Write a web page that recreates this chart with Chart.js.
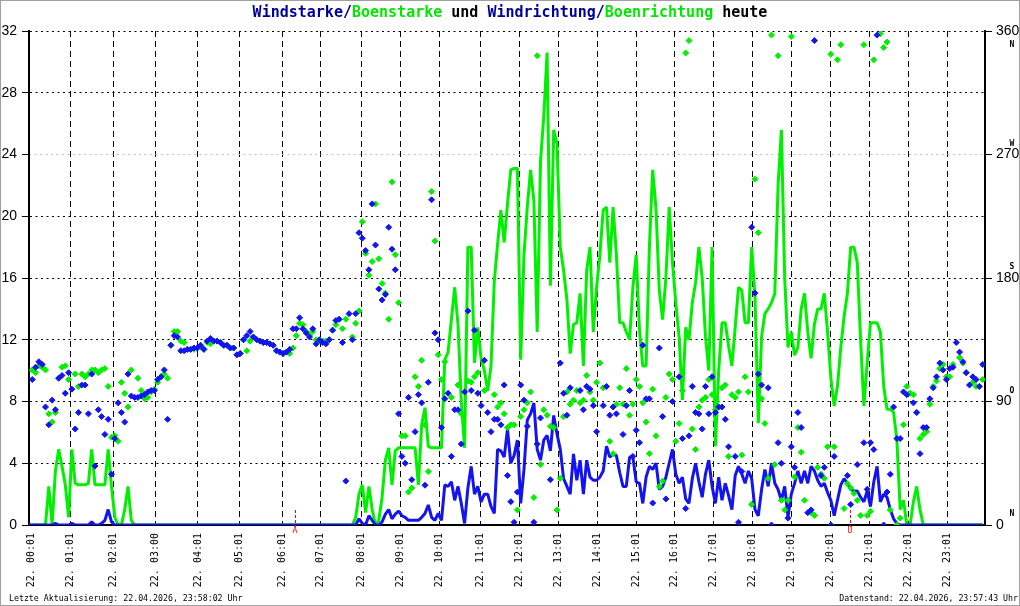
<!DOCTYPE html>
<html>
<head>
<meta charset="utf-8">
<script src="https://cdn.jsdelivr.net/npm/chart.js@4/dist/chart.umd.min.js"></script>
<style>
  html, body { margin: 0; padding: 0; background: #fff; }
  canvas { display: block; }
</style>
</head>
<body>
<canvas id="windChart" width="1020" height="606"></canvas>
<script>
// one sample every ~5 minutes, x axis = sample number
const hourLabels = ["22. 00:01", "22. 01:01", "22. 02:01", "22. 03:00", "22. 04:01", "22. 05:01",
  "22. 06:01", "22. 07:01", "22. 08:01", "22. 09:01", "22. 10:01", "22. 11:01", "22. 12:01",
  "22. 13:01", "22. 14:01", "22. 15:01", "22. 16:01", "22. 17:01", "22. 18:01", "22. 19:01",
  "22. 20:01", "22. 21:01", "22. 22:01", "22. 23:01"];
const hourTickIdx = [0.6, 12.6, 25.5, 38.2, 51.2, 63.9, 76.9, 88.2, 100.8, 112.6, 124.5, 136.8,
  148.5, 160.4, 172.2, 184.1, 195.5, 207.4, 219.3, 231.1, 243.0, 254.6, 266.5, 278.3];
const lastIdx = 289.7;

const dirTicks = [0, 90, 180, 270, 360];
const compass = ["N", "O", "S", "W", "N"];

const sunEventIdx = [80.6, 248.8];
const sunEventLabel = ["A", "U"];

// Boenstarke
const gust = [
  0, 0, 0, 0, 0, 0, 2.5, 0, 3.5, 4.9,
  3.8, 2.6, 0.5, 4.9, 2.7, 2.6, 2.6, 2.6, 2.7, 4.9,
  2.6, 2.6, 2.6, 2.6, 4.9, 2.5, 0.5, 0, 0, 1.0,
  2.5, 0.3, 0, 0, 0, 0, 0, 0, 0, 0,
  0, 0, 0, 0, 0, 0, 0, 0, 0, 0,
  0, 0, 0, 0, 0, 0, 0, 0, 0, 0,
  0, 0, 0, 0, 0, 0, 0, 0, 0, 0,
  0, 0, 0, 0, 0, 0, 0, 0, 0, 0,
  0, 0, 0, 0, 0, 0, 0, 0, 0, 0,
  0, 0, 0, 0, 0, 0, 0, 0, 0, 0.5,
  2.0, 2.6, 0.8, 2.5, 1.0, 0, 0.3, 1.8, 4.2, 5.0,
  2.6, 4.8, 5.0, 5.0, 5.0, 5.0, 5.0, 5.0, 2.6, 6.5,
  7.6, 5.1, 5.0, 5.0, 5.0, 5.0, 10.7, 11.2, 13.3, 15.4,
  13.0, 8.0, 5.0, 18.0, 18.0, 10.5, 12.8, 10.8, 10.0, 8.7,
  10.3, 15.8, 18.2, 20.4, 18.3, 20.8, 23.0, 23.1, 23.1, 10.7,
  17.5, 20.6, 23.0, 21.0, 12.5, 23.5, 26.5, 30.6, 15.5, 25.6,
  24.7, 18.0, 16.5, 14.6, 11.1, 13.0, 13.1, 15.0, 10.3, 16.5,
  18.0, 12.5, 15.4, 17.5, 20.4, 20.6, 17.0, 20.6, 17.5, 13.1,
  13.1, 12.5, 12.0, 15.4, 17.5, 12.6, 10.3, 10.3, 18.0, 23.0,
  20.5, 15.2, 13.3, 16.0, 20.6, 17.0, 14.4, 12.2, 8.1, 12.8,
  12.0, 14.4, 15.7, 18.0, 16.0, 12.2, 10.0, 18.0, 5.1, 10.0,
  13.1, 13.1, 11.6, 10.3, 12.8, 15.4, 15.2, 13.1, 13.1, 18.0,
  14.8, 6.6, 12.2, 13.7, 14.0, 14.4, 15.0, 22.0, 25.6, 16.0,
  11.5, 12.5, 11.0, 11.5, 14.0, 15.0, 12.5, 10.8, 13.0, 14.0,
  14.0, 15.0, 12.5, 9.5, 7.7, 9.0, 11.5, 13.5, 15.0, 18.0,
  18.0, 17.0, 12.0, 7.7, 10.5, 13.1, 13.1, 13.1, 12.5, 9.0,
  7.5, 7.5, 7.3, 5.5, 1.0, 1.6, 0, 0, 1.5, 2.5,
  1.0, 0, 0, 0, 0, 0, 0, 0, 0, 0,
  0, 0, 0, 0, 0, 0, 0, 0, 0, 0
];

// Windstarke
const speed = [
  0, 0, 0, 0, 0, 0, 0, 0, 0.1, 0,
  0, 0, 0, 0.1, 0, 0, 0, 0, 0, 0.2,
  0, 0, 0.1, 0.3, 1.0, 0.2, 0, 0, 0, 0,
  0, 0, 0, 0, 0, 0, 0, 0, 0, 0,
  0, 0, 0, 0, 0, 0, 0, 0, 0, 0,
  0, 0, 0, 0, 0, 0, 0, 0, 0, 0,
  0, 0, 0, 0, 0, 0, 0, 0, 0, 0,
  0, 0, 0, 0, 0, 0, 0, 0, 0, 0,
  0, 0, 0, 0, 0, 0, 0, 0, 0, 0,
  0, 0, 0, 0, 0, 0, 0, 0, 0, 0,
  0.4, 0.1, 0, 0.6, 0.3, 0, 0, 0.2, 0.7, 1.0,
  0.4, 0.7, 0.9, 0.6, 0.5, 0.3, 0.3, 0.3, 0.3, 0.5,
  0.75, 1.3, 0.5, 0.3, 0.75, 0.3, 2.6, 2.5, 2.8, 1.6,
  2.5, 1.4, 0.1, 2.4, 3.8, 2.0, 2.5, 1.5, 2.0, 2.0,
  1.2, 0.75, 4.9, 4.8, 4.4, 6.2, 4.0, 4.5, 5.5, 1.4,
  3.6, 6.8, 7.2, 7.9, 4.9, 4.2, 5.5, 5.8, 4.8, 7.1,
  5.9, 4.9, 3.0, 2.5, 2.0, 4.6, 2.9, 4.2, 2.0, 4.2,
  3.1, 2.9, 2.9, 3.1, 3.5, 5.1, 4.4, 4.6, 4.5, 3.4,
  2.5, 2.5, 4.4, 4.4, 2.8, 2.7, 1.4, 3.1, 3.8, 3.6,
  4.0, 2.3, 2.5, 3.1, 4.0, 4.9, 3.3, 2.7, 3.1, 1.7,
  1.4, 3.0, 4.0, 2.8, 1.8, 3.3, 4.2, 2.5, 1.4, 3.1,
  1.6, 2.7, 1.9, 1.0, 3.2, 3.8, 3.3, 2.7, 3.5, 3.0,
  1.0, 0.6, 2.3, 3.6, 2.5, 4.0, 2.7, 2.3, 1.6, 2.5,
  0.5, 2.0, 2.7, 3.5, 2.7, 3.5, 2.7, 3.8, 3.5, 2.9,
  2.5, 2.7, 2.1, 1.6, 0.6, 1.6, 2.6, 3.0, 2.7, 2.3,
  2.2, 2.2, 1.8, 1.5, 2.2, 1.2, 2.8, 3.8, 1.5, 2.0,
  1.8, 1.0, 0.4, 0.1, 0, 0, 0, 0, 0, 0,
  0, 0, 0, 0, 0, 0, 0, 0, 0, 0,
  0, 0, 0, 0, 0, 0, 0, 0, 0, 0
];

// Windrichtung in Grad
const windDir = [
  null, 106, 115, 119, 117, 86, 73, 91, 84, 107,
  109, 96, 111, 99, 70, 82, 102, 102, 81, 110,
  43, 84, 79, 66, 77, 37, 63, 89, 82, 75,
  110, 94, 93, 93, 94, 95, 97, 98, 98, 106,
  108, 113, 77, 131, 138, 137, 127, 127, 128, 128,
  129, 129, 131, 128, 134, 136, 134, 134, 133, 131,
  131, 129, 129, 124, 125, 135, 138, 141, 137, 135,
  134, 133, 133, 132, 131, 127, 126, 125, 126, 128,
  143, 143, 151, 143, 140, 137, 143, 132, 135, 133,
  132, 135, 142, 149, 150, 133, 32, 154, 135, 154,
  213, 209, 200, 186, 234, 204, 172, 164, 168, 217,
  201, 186, 81, 50, 45, 93, 33, 68, 95, 89,
  29, 104, 237, 140, 135, 71, 92, 96, 50, 84,
  84, 59, 97, 156, 98, 142, 96, 87, 120, 82,
  68, 77, 77, 73, 102, 36, 17, 2, 24, 102,
  91, 72, null, 2, 59, 78, null, null, 33, null,
  null, 118, 96, 80, 100, null, null, 98, 84, 101,
  99, 87, 68, null, 87, 101, 80, 86, 81, null,
  66, 87, 98, 50, 69, 60, 131, 92, 92, 16,
  null, 129, 79, 19, null, 90, null, 108, 63, 12,
  65, 101, 82, 81, 70, 101, 81, 108, 82, 86,
  86, 77, 57, null, 50, 2, 39, null, null, 217,
  169, 110, 102, null, 100, 0, null, 60, 45, null,
  5, 57, 42, 82, 71, null, 9, 11, 353, null,
  36, 42, null, 0, 50, null, null, null, 36, 15,
  null, 44, null, 60, 26, 60, 55, 357, null, 0,
  24, 37, 86, 63, 63, 97, 95, null, 89, 82,
  52, 71, 71, 92, 100, 108, 118, 113, 106, 114,
  115, 133, 126, 119, 111, 102, 108, 106, 101, 117
];

// Boenrichtung in Grad
const gustDir = [
  null, 113, 111, 116, 115, 113, 81, 75, 82, 107,
  115, 116, 106, null, 110, 101, 110, 108, 110, 113,
  113, 111, 113, 114, 101, 64, 65, 61, 104, 96,
  86, 113, null, 107, 98, 92, 93, 97, 99, 104,
  108, 110, 107, 131, 141, 141, 134, 133, 128, 128,
  128, 129, 130, 128, 133, 132, 134, 134, 133, 131,
  131, 129, 129, 124, 125, 135, 127, 134, 137, 135,
  134, 133, 133, 132, 131, 127, 126, 125, 126, 125,
  129, 138, 147, 146, 141, 138, 141, 135, 134, 134,
  134, 135, 142, 146, 150, 143, 150, null, 137, 147,
  156, 221, 198, 182, 192, 234, 194, 176, 169, 150,
  250, 197, 162, 65, 65, 24, 27, 108, 101, 120,
  73, 39, 243, 207, 124, 106, 119, null, 93, null,
  102, 81, null, 105, 104, 108, 111, null, 98, null,
  null, 95, 86, 89, 81, 71, 73, 73, 11, 79,
  84, 89, 97, 20, 342, 44, 84, 80, 72, 71,
  11, 34, 79, 97, 88, 91, 98, 89, 91, 109,
  97, 91, 104, 118, 100, null, 61, 52, 88, 100,
  88, 114, 80, 88, 106, 101, 89, 75, 52, 99,
  65, 28, 32, 93, 110, 106, 61, 74, 98, 344,
  353, 70, 55, 86, 91, 93, 106, 95, 84, null,
  100, 102, 50, 95, 93, 97, 51, 108, 97, 15,
  252, 213, 92, 74, 34, 357, 44, 342, 18, 11,
  18, 356, 35, 71, 53, 18, null, 9, 7, 42,
  37, 34, 57, 343, 57, 339, 350, 12, 30, 27,
  23, 18, 7, 350, 7, 10, 339, null, 358, 348,
  352, 11, null, 0, 5, 73, 101, 96, 95, 82,
  63, 66, 68, 88, 101, 105, 114, 117, 108, 108,
  117, null, 122, 118, 111, null, 104, 101, null, 106
];

const titleParts = [
  ["Windstarke", "#000099"], ["/", "#000099"], ["Boenstarke", "#00e800"],
  [" und ", "#000000"], ["Windrichtung", "#000099"], ["/", "#000099"],
  ["Boenrichtung", "#00e800"], [" heute", "#000000"]
];
const footLeft = "Letzte Aktualisierung: 22.04.2026, 23:58:02 Uhr";
const footRight = "Datenstand: 22.04.2026, 23:57:43 Uhr";

const BLUE = '#1414f0';
const GREEN = '#00f000';
const MONO = "'DejaVu Sans Mono', monospace";

const toXY = (arr) => arr.map((v, i) => ({ x: i, y: v }));

const extras = {
  id: 'extras',
  beforeDatasetsDraw(chart) {
    const { ctx, chartArea, scales } = chart;
    ctx.save();
    ctx.strokeStyle = '#ff0000';
    ctx.lineWidth = 1;
    ctx.setLineDash([3, 2]);
    sunEventIdx.forEach((idx) => {
      const px = Math.round(scales.x.getPixelForValue(idx)) + 0.5;
      ctx.beginPath();
      ctx.moveTo(px, chartArea.bottom - 15);
      ctx.lineTo(px, chartArea.bottom + 2);
      ctx.stroke();
    });
    ctx.restore();
  },
  afterDraw(chart) {
    const { ctx, chartArea, scales } = chart;
    ctx.save();

    // sun rise / set letters
    ctx.fillStyle = '#ff0000';
    ctx.font = "8px " + MONO;
    ctx.textAlign = 'center';
    ctx.textBaseline = 'middle';
    sunEventIdx.forEach((idx, i) => {
      ctx.fillText(sunEventLabel[i], scales.x.getPixelForValue(idx), chartArea.bottom + 6);
    });

    // compass letters on the right axis
    ctx.fillStyle = '#000';
    ctx.font = "bold 8px " + MONO;
    dirTicks.forEach((d, i) => {
      const py = scales.y2.getPixelForValue(d);
      ctx.fillText(compass[i], 1012, d === 360 ? py + 14 : py - 11);
    });

    // title in colours
    ctx.font = "bold 15px " + MONO;
    ctx.textAlign = 'left';
    let total = 0;
    titleParts.forEach((p) => { total += ctx.measureText(p[0]).width; });
    let tx = 510 - total / 2;
    titleParts.forEach((p) => {
      ctx.fillStyle = p[1];
      ctx.fillText(p[0], tx, 13);
      tx += ctx.measureText(p[0]).width;
    });

    // footer
    ctx.fillStyle = '#000';
    ctx.font = "8.25px " + MONO;
    ctx.fillText(footLeft, 9, 599);
    ctx.textAlign = 'right';
    ctx.fillText(footRight, 1018, 599);

    // frame
    ctx.strokeStyle = '#a0a0a0';
    ctx.lineWidth = 1;
    ctx.strokeRect(0.5, 0.5, 1019, 605);
    ctx.restore();
  }
};

const ctxWind = document.getElementById('windChart').getContext('2d');

const windChart = new Chart(ctxWind, {
  type: 'line',
  data: {
    datasets: [
      {
        type: 'scatter',
        label: 'Windrichtung',
        data: toXY(windDir),
        yAxisID: 'y2',
        pointStyle: 'rectRot',
        pointRadius: 3,
        pointBorderWidth: 1,
        backgroundColor: BLUE,
        borderColor: BLUE
      },
      {
        type: 'scatter',
        label: 'Boenrichtung',
        data: toXY(gustDir),
        yAxisID: 'y2',
        pointStyle: 'rectRot',
        pointRadius: 3,
        pointBorderWidth: 1,
        backgroundColor: GREEN,
        borderColor: GREEN
      },
      {
        label: 'Windstarke',
        data: toXY(speed),
        yAxisID: 'y',
        borderColor: BLUE,
        borderWidth: 3,
        borderJoinStyle: 'bevel',
        pointRadius: 0,
        tension: 0,
        fill: false
      },
      {
        label: 'Boenstarke',
        data: toXY(gust),
        yAxisID: 'y',
        borderColor: GREEN,
        borderWidth: 3,
        borderJoinStyle: 'bevel',
        pointRadius: 0,
        tension: 0,
        fill: false
      }
    ]
  },
  options: {
    responsive: false,
    animation: false,
    events: [],
    layout: { padding: { top: 31, left: 0, right: 0, bottom: 0 } },
    plugins: {
      legend: { display: false },
      tooltip: { enabled: false },
      title: { display: false }
    },
    scales: {
      x: {
        type: 'linear',
        position: 'bottom',
        min: 0,
        max: lastIdx,
        afterBuildTicks: (scale) => {
          scale.ticks = hourTickIdx.map((v) => ({ value: v }));
        },
        afterFit: (scale) => { scale.height = 81; },
        ticks: {
          autoSkip: false,
          minRotation: 90,
          maxRotation: 90,
          padding: 8,
          color: '#000',
          font: { family: MONO, size: 10 },
          callback: (value, index) => hourLabels[index]
        },
        grid: {
          color: (c) => (c.index === 0 ? 'rgba(0,0,0,0)' : '#000'),
          lineWidth: 1,
          drawTicks: false
        },
        border: { color: '#000', width: 2, dash: [6, 4] }
      },
      y: {
        type: 'linear',
        position: 'left',
        min: 0,
        max: 32,
        afterFit: (scale) => { scale.width = 29; },
        ticks: {
          stepSize: 4,
          padding: 5,
          color: '#000',
          font: { family: "'Liberation Sans', Arial, sans-serif", size: 14 }
        },
        grid: {
          color: (c) => (c.tick && c.tick.value === 24 ? 'rgba(0,0,0,0)' : '#000'),
          tickColor: '#000',
          tickLength: 7,
          tickBorderDash: [],
          lineWidth: 1
        },
        border: { color: '#000', width: 2, dash: [2, 3.5] }
      },
      y2: {
        type: 'linear',
        position: 'right',
        min: 0,
        max: 360,
        afterFit: (scale) => { scale.width = 35; },
        ticks: {
          stepSize: 90,
          padding: 4,
          color: '#000',
          font: { family: "'Liberation Sans', Arial, sans-serif", size: 14 }
        },
        grid: {
          color: (c) => (c.tick && c.tick.value === 270 ? '#c0c0c0' : 'rgba(0,0,0,0)'),
          tickColor: '#000',
          tickLength: 7,
          tickBorderDash: [],
          lineWidth: 1
        },
        border: { color: '#000', width: 2, dash: [2, 3.5] }
      }
    }
  },
  plugins: [extras]
});
</script>
</body>
</html>
